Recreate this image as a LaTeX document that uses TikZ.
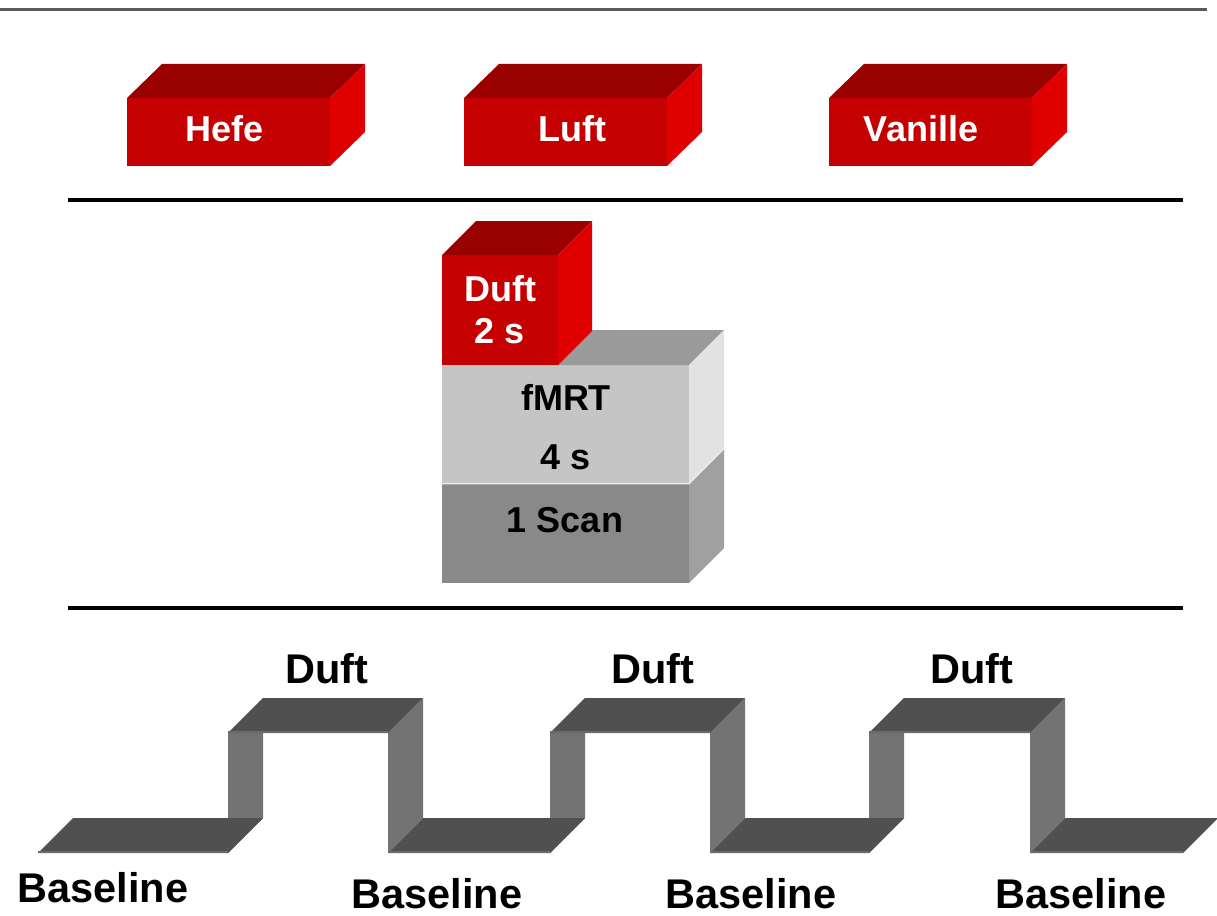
\documentclass[tikz,border=0pt]{standalone}
\usepackage{fontspec}
\setmainfont{Liberation Sans}
\definecolor{rtop}{HTML}{990000}
\definecolor{rfront}{HTML}{C40000}
\definecolor{rright}{HTML}{E00000}
\definecolor{ftop}{HTML}{9A9A9A}
\definecolor{ffront}{HTML}{C5C5C5}
\definecolor{fright}{HTML}{E2E2E2}
\definecolor{sfront}{HTML}{898989}
\definecolor{sright}{HTML}{A0A0A0}
\definecolor{flatc}{HTML}{505050}
\definecolor{flatedge}{HTML}{6A6A6A}
\definecolor{wallc}{HTML}{737373}
\definecolor{rulegray}{HTML}{5A5A5A}
\tikzset{
  boxtext/.style={font=\fontsize{36}{40}\selectfont\bfseries, anchor=base, inner sep=0pt},
  whitetext/.style={boxtext, text=white},
  wavetext/.style={font=\fontsize{41.5}{46}\selectfont\bfseries, anchor=base, inner sep=0pt},
  rulestyle/.style={line width=4pt, black},
}
\begin{document}
\begin{tikzpicture}[x=1pt,y=-1pt]
\useasboundingbox (0,0) rectangle (1217,915);

% top grey rule
\draw[rulegray, line width=3pt] (0,9.5) -- (1207,9.5);

% red boxes
\foreach \x in {127,464,829}{
  \fill[rfront] (\x,98) rectangle ++(203,68);
  \fill[rtop] (\x,98) -- ++(35,-34) -- ++(203,0) -- ++(-35,34) -- cycle;
  \fill[rright] (\x+203,98) -- ++(35,-34) -- ++(0,68) -- ++(-35,34) -- cycle;
}
\node[whitetext] (hefe) at (225,142) {Hefe};
\node[whitetext] (luft) at (572,142) {Luft};
\node[whitetext] (vanille) at (921,142) {Vanille};

% rules
\draw[rulestyle] (68,200) -- (1183,200);
\draw[rulestyle] (68,608) -- (1183,608);

% stack: scan box
\fill[sfront] (442,483) rectangle (689,583);
\fill[sright] (689,483) -- (724,448) -- (724,548) -- (689,583) -- cycle;
% fMRT box
\fill[ffront] (442,365) rectangle (689,483);
\fill[ftop] (442,365) -- (476,330) -- (724,330) -- (689,365) -- cycle;
\fill[fright] (689,365) -- (724,330) -- (724,448) -- (689,483) -- cycle;
\draw[white!85!gray, line width=1.5pt] (442,483.5) -- (689,483.5) -- (724,448.5);
% Duft box
\fill[rfront] (442,255) rectangle (558,365);
\fill[rtop] (442,255) -- (476,221) -- (592,221) -- (558,255) -- cycle;
\fill[rright] (558,255) -- (592,221) -- (592,331) -- (558,365) -- cycle;

\node[whitetext] (duftbox) at (500,301) {Duft};
\node[whitetext] (duftsec) at (500,343) {2 s};
\node[boxtext] (fmrt) at (566,410) {fMRT};
\node[boxtext] (fmrtsec) at (566,469) {4 s};
\node[boxtext] (scan) at (565,532) {1 Scan};

% wave: walls
\foreach \x in {228,388,550,710,869,1030}{
  \fill[wallc] (\x,853) -- (\x,733) -- (\x+35,698) -- (\x+35,818) -- cycle;
}
% bottom flats
\foreach \a/\b in {38/228,388/550,710/869,1030/1183}{
  \fill[flatc] (\a,853) -- (\b,853) -- (\b+35,818) -- (\a+35,818) -- cycle;
  \draw[flatedge, line width=2pt] (\a,852) -- (\b,852);
}
% top flats
\foreach \a/\b in {228/388,550/710,869/1030}{
  \fill[flatc] (\a,733) -- (\b,733) -- (\b+35,698) -- (\a+35,698) -- cycle;
  \draw[flatedge, line width=2pt] (\a,732) -- (\b,732);
}

\node[wavetext] (duft1) at (327,683) {Duft};
\node[wavetext] (duft2) at (653,683) {Duft};
\node[wavetext] (duft3) at (972,683) {Duft};
\node[wavetext] (base1) at (103,902) {Baseline};
\node[wavetext] (base2) at (437,908) {Baseline};
\node[wavetext] (base3) at (751,908) {Baseline};
\node[wavetext] (base4) at (1081,908) {Baseline};
\end{tikzpicture}
\end{document}
